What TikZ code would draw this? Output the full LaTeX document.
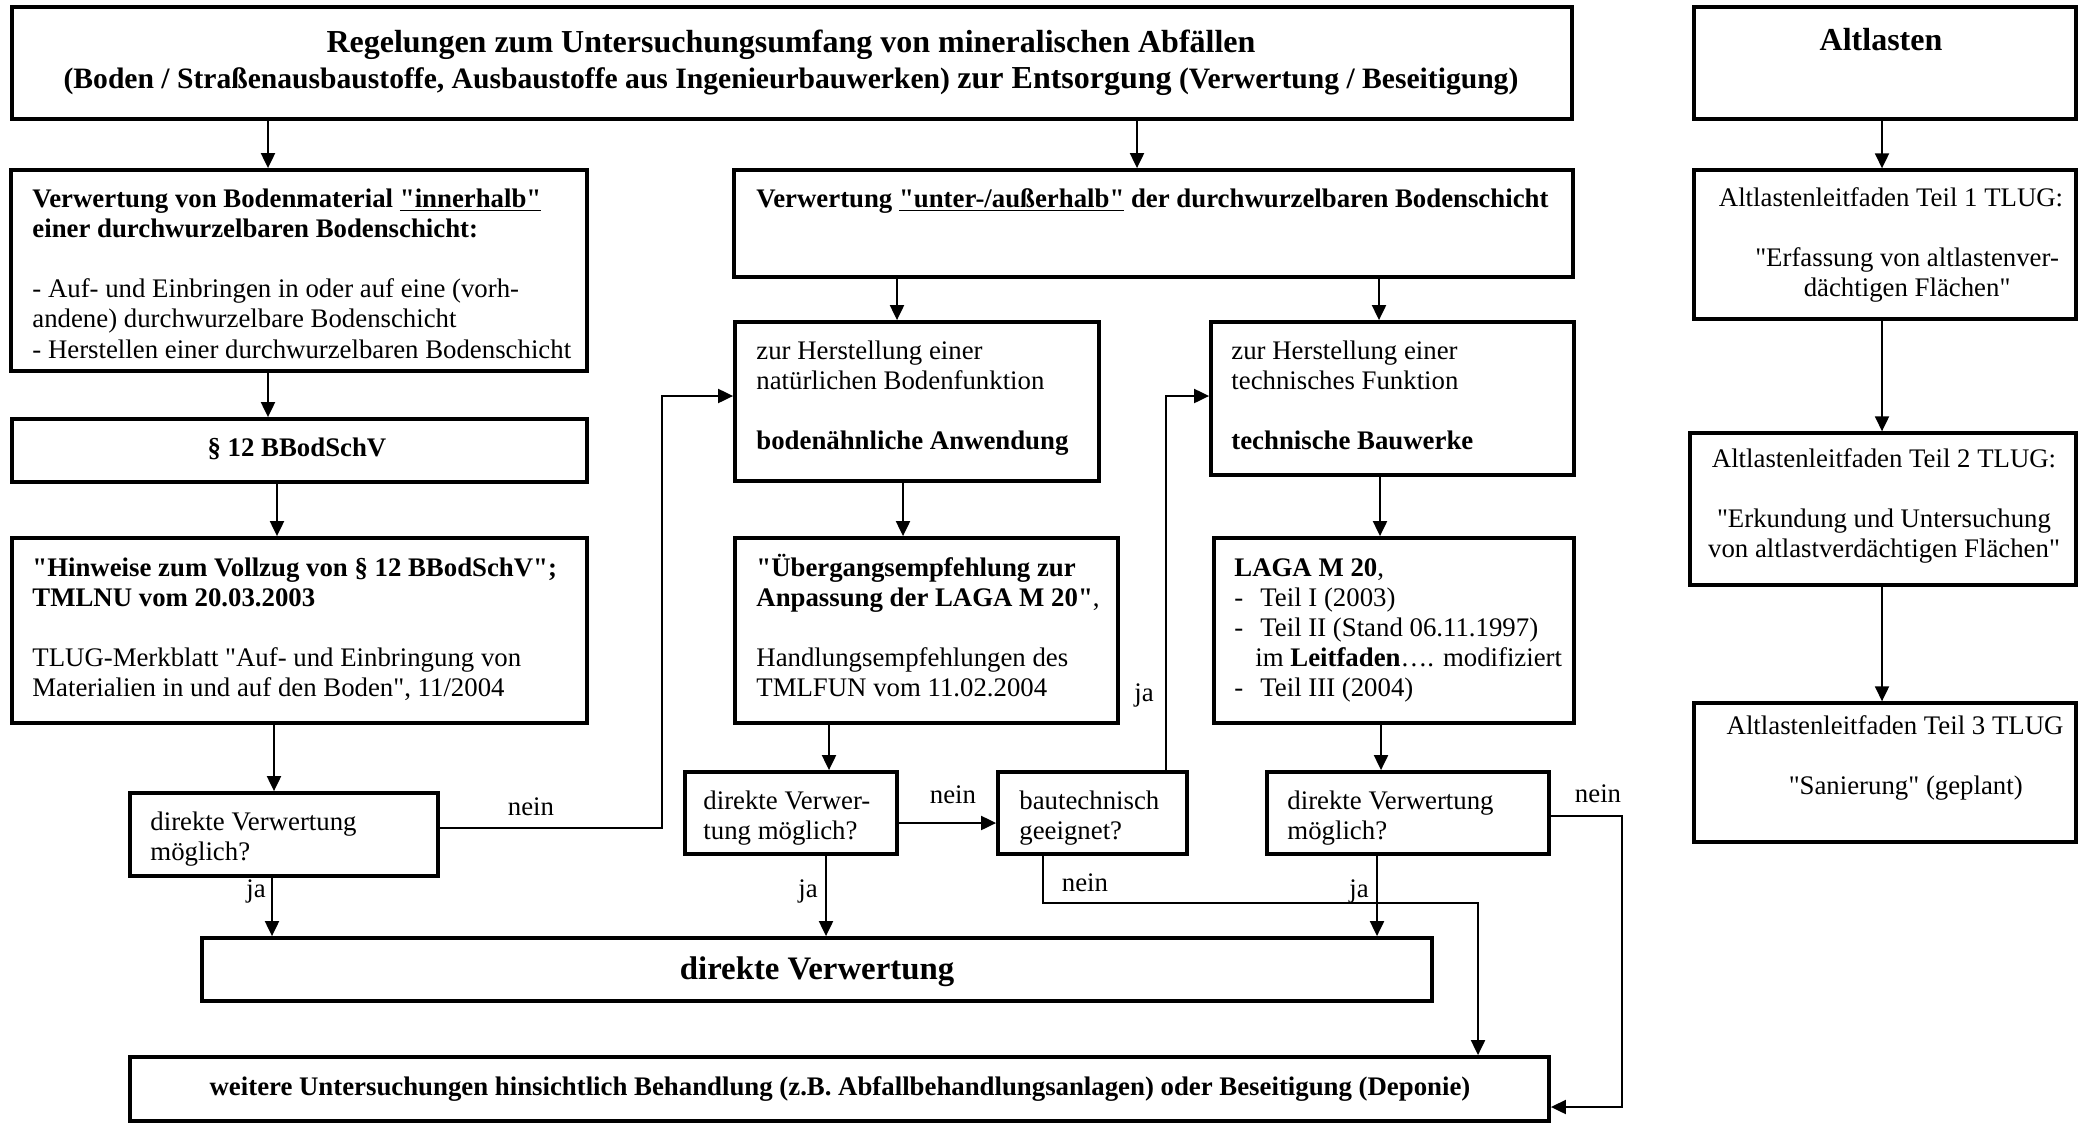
\documentclass[tikz,border=0pt]{standalone}
\usepackage{fontspec}
\setmainfont{Liberation Serif}[Ligatures=TeXOff]
\usetikzlibrary{arrows.meta,fit}
\newcommand{\tabL}[1]{\begin{tabular}[t]{@{}l@{}}#1\end{tabular}}
\newcommand{\tabC}[1]{\begin{tabular}[t]{@{}c@{}}#1\end{tabular}}
\begin{document}
\begin{tikzpicture}[x=0.5pt,y=-0.5pt,
  box/.style={draw, line width=1.9pt, inner sep=0pt},
  abox/.style={draw, line width=1.7pt, inner sep=0pt},
  txt/.style={inner sep=0pt, anchor=base west, font=\fontsize{13.4}{15.1}\selectfont},
  ctxt/.style={inner sep=0pt, anchor=base, font=\fontsize{13.4}{15.1}\selectfont},
  arr/.style={line width=1pt, -{Triangle[length=7.5pt,width=7pt]}},
  ln/.style={line width=1pt}]
\useasboundingbox (0,0) rectangle (2080,1124);
\fill[white] (0,0) rectangle (2080,1124);

% boxes
\node[box, fit={(12,7) (1572,119)}] (title) {};
\node[box, fit={(1694,7) (2076,119)}] (alt) {};
\node[box, fit={(11,170) (587,371)}] (box1) {};
\node[box, fit={(734,170) (1573,277)}] (mid) {};
\node[box, fit={(12,419) (587,482)}] (par12) {};
\node[box, fit={(735,322) (1099,481)}] (boden) {};
\node[box, fit={(1211,322) (1574,475)}] (tech) {};
\node[box, fit={(12,538) (587,723)}] (hinw) {};
\node[box, fit={(735,538) (1118,723)}] (ueber) {};
\node[box, fit={(1214,538) (1574,723)}] (laga) {};
\node[box, fit={(130,793) (438,876)}] (dec1) {};
\node[box, fit={(685,772) (897,854)}] (dec2) {};
\node[box, fit={(998,772) (1187,854)}] (baut) {};
\node[box, fit={(1267,772) (1549,854)}] (dec3) {};
\node[box, fit={(202,938) (1432,1001)}] (dv) {};
\node[box, fit={(130,1057) (1549,1121)}] (weit) {};
\node[abox, fit={(1694,170) (2076,319)}] (alt1) {};
\node[abox, fit={(1690,433) (2076,585)}] (alt2) {};
\node[abox, fit={(1694,703) (2076,842)}] (alt3) {};

% texts
\node[inner sep=0pt, anchor=base, font=\fontsize{16}{19}\selectfont\bfseries] (tt1) at (791,52)
  {Regelungen zum Untersuchungsumfang von mineralischen Abfällen};
\node[inner sep=0pt, anchor=base, font=\fontsize{14.8}{18}\selectfont\bfseries] (tt2) at (791,88)
  {(Boden / Straßenausbaustoffe, Ausbaustoffe aus Ingenieurbauwerken) {\fontsize{16}{19}\selectfont zur Entsorgung} (Verwertung / Beseitigung)};
\node[inner sep=0pt, anchor=base, font=\fontsize{16}{19}\selectfont\bfseries] (altt) at (1881,50) {Altlasten};

\node[txt] (box1t) at (32,207) {\tabL{\textbf{Verwertung von Bodenmaterial \underline{"innerhalb"}}\\
  \textbf{einer durchwurzelbaren Bodenschicht:}\\ \\
  - Auf- und Einbringen in oder auf eine (vorh-\\
  andene) durchwurzelbare Bodenschicht\\
  - Herstellen einer durchwurzelbaren Bodenschicht}};
\node[txt] (midt) at (756,207) {\textbf{Verwertung \underline{"unter-/außerhalb"} der durchwurzelbaren Bodenschicht}};
\node[ctxt] (par12t) at (297,456) {\textbf{§ 12 BBodSchV}};
\node[txt] (bodent) at (756,359) {\tabL{zur Herstellung einer\\ natürlichen Bodenfunktion\\ \\ \textbf{bodenähnliche Anwendung}}};
\node[txt] (techt) at (1231,359) {\tabL{zur Herstellung einer\\ technisches Funktion\\ \\ \textbf{technische Bauwerke}}};
\node[txt] (hinwt) at (32,576) {\tabL{\textbf{"Hinweise zum Vollzug von § 12 BBodSchV";}\\
  \textbf{TMLNU vom 20.03.2003}\\ \\
  TLUG-Merkblatt "Auf- und Einbringung von\\
  Materialien in und auf den Boden", 11/2004}};
\node[txt] (uebert) at (756,576) {\tabL{\textbf{"Übergangsempfehlung zur}\\
  \textbf{Anpassung der LAGA M 20"},\\ \\
  Handlungsempfehlungen des\\
  TMLFUN vom 11.02.2004}};
\node[txt] (lagat) at (1234,576) {\tabL{\textbf{LAGA M 20},\\
  \makebox[13pt][l]{-}Teil I (2003)\\
  \makebox[13pt][l]{-}Teil II (Stand 06.11.1997)\\
  \hspace{10.5pt}im \textbf{Leitfaden}…. modifiziert\\
  \makebox[13pt][l]{-}Teil III (2004)}};
\node[txt] (dec1t) at (150,830) {\tabL{direkte Verwertung\\ möglich?}};
\node[txt] (dec2t) at (703,809) {\tabL{direkte Verwer-\\ tung möglich?}};
\node[txt] (bautt) at (1019,809) {\tabL{bautechnisch\\ geeignet?}};
\node[txt] (dec3t) at (1287,809) {\tabL{direkte Verwertung\\ möglich?}};
\node[inner sep=0pt, anchor=base, font=\fontsize{16.4}{19}\selectfont\bfseries] (dvt) at (817,979) {direkte Verwertung};
\node[ctxt] (weitt) at (840,1095) {\textbf{weitere Untersuchungen hinsichtlich Behandlung (z.B. Abfallbehandlungsanlagen) oder Beseitigung (Deponie)}};
\node[ctxt] (alt1t) at (1891,206) {\tabC{Altlastenleitfaden Teil 1 TLUG:\\ \\ \hspace{1.2em}"Erfassung von altlastenver-\\ \hspace{1.2em}dächtigen Flächen"}};
\node[ctxt] (alt2t) at (1884,467) {\tabC{Altlastenleitfaden Teil 2 TLUG:\\ \\ "Erkundung und Untersuchung\\ von altlastverdächtigen Flächen"}};
\node[ctxt] (alt3t) at (1895,734) {\tabC{Altlastenleitfaden Teil 3 TLUG\\ \\ \hspace{0.8em}"Sanierung" (geplant)}};

% labels
\node[ctxt] (l1) at (531,815) {nein};
\node[ctxt] (l2) at (256,897) {ja};
\node[ctxt] (l3) at (953,803) {nein};
\node[ctxt] (l4) at (808,897) {ja};
\node[ctxt] (l5) at (1144,701) {ja};
\node[ctxt] (l6) at (1598,802) {nein};
\node[ctxt] (l7) at (1085,891) {nein};
\node[ctxt] (l8) at (1359,897) {ja};

% connectors
\draw[arr] (title.south -| 268,0) -- (box1.north -| 268,0);
\draw[arr] (title.south -| 1137,0) -- (mid.north -| 1137,0);
\draw[arr] (alt.south -| 1882,0) -- (alt1.north -| 1882,0);
\draw[arr] (alt1.south -| 1882,0) -- (alt2.north -| 1882,0);
\draw[arr] (alt2.south -| 1882,0) -- (alt3.north -| 1882,0);
\draw[arr] (box1.south -| 268,0) -- (par12.north -| 268,0);
\draw[arr] (par12.south -| 277,0) -- (hinw.north -| 277,0);
\draw[arr] (hinw.south -| 274,0) -- (dec1.north -| 274,0);
\coordinate (n1a) at (662,828);
\coordinate (n1b) at (662,396);
\draw[arr] (dec1.east |- n1a) -- (n1a) -- (n1b) -- (boden.west |- n1b);
\draw[arr] (dec1.south -| 272,0) -- (dv.north -| 272,0);
\draw[arr] (mid.south -| 897,0) -- (boden.north -| 897,0);
\draw[arr] (mid.south -| 1379,0) -- (tech.north -| 1379,0);
\draw[arr] (boden.south -| 903,0) -- (ueber.north -| 903,0);
\draw[arr] (ueber.south -| 829,0) -- (dec2.north -| 829,0);
\draw[arr] (dec2.east |- 0,823) -- (baut.west |- 0,823);
\draw[arr] (dec2.south -| 826,0) -- (dv.north -| 826,0);
\coordinate (j1) at (1166,396);
\draw[arr] (baut.north -| j1) -- (j1) -- (tech.west |- j1);
\draw[arr] (tech.south -| 1380,0) -- (laga.north -| 1380,0);
\draw[arr] (laga.south -| 1381,0) -- (dec3.north -| 1381,0);
\draw[arr] (dec3.south -| 1377,0) -- (dv.north -| 1377,0);
\coordinate (n3a) at (1622,816);
\coordinate (n3b) at (1622,1107);
\draw[arr] (dec3.east |- n3a) -- (n3a) -- (n3b) -- (weit.east |- n3b);
\coordinate (n4a) at (1043,903);
\coordinate (n4b) at (1478,903);
\draw[arr] (baut.south -| n4a) -- (n4a) -- (n4b) -- (weit.north -| n4b);
\end{tikzpicture}
\end{document}
